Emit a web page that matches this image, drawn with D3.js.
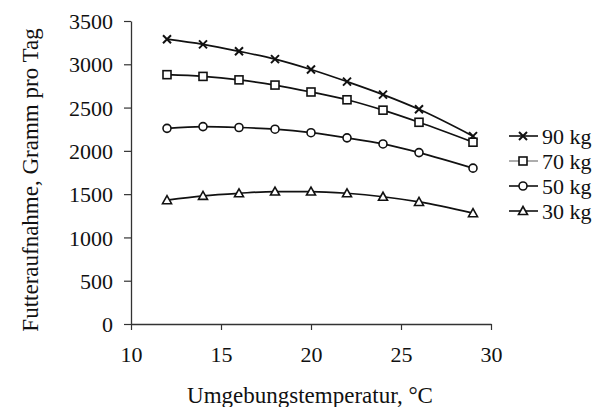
<!DOCTYPE html>
<html>
<head>
<meta charset="utf-8">
<script src="https://cdn.jsdelivr.net/npm/d3@7"></script>
<style>
  body { margin: 0; background: #fff; }
  text { font-family: "Liberation Serif", "Times New Roman", serif; fill: #111; }
</style>
</head>
<body>
<svg id="chart" width="611" height="407"></svg>
<script>
// temperatures (°C) and feed intake (g/day) per body weight
var temps = [12, 14, 16, 18, 20, 22, 24, 26, 29];
var kg90 = [3290, 3230, 3150, 3060, 2940, 2800, 2650, 2480, 2170];
var kg70 = [2880, 2860, 2820, 2760, 2680, 2590, 2470, 2330, 2100];
var kg50 = [2260, 2280, 2270, 2250, 2210, 2150, 2080, 1980, 1800];
var kg30 = [1430, 1480, 1510, 1530, 1530, 1510, 1470, 1410, 1280];
var seriesNames = ["90 kg", "70 kg", "50 kg", "30 kg"];
var xTicks = [10, 15, 20, 25, 30];
var yTicks = [0, 500, 1000, 1500, 2000, 2500, 3000, 3500];

var series = [
  {name: seriesNames[0], values: kg90, marker: "cross"},
  {name: seriesNames[1], values: kg70, marker: "square"},
  {name: seriesNames[2], values: kg50, marker: "circle"},
  {name: seriesNames[3], values: kg30, marker: "triangle"}
];

var svg = d3.select("#chart")

var x = d3.scaleLinear().domain([10, 30]).range([131, 491])
var y = d3.scaleLinear().domain([0, 3500]).range([324, 21])

// axes
var xAxis = svg.append("g")
  .attr("transform", "translate(0,324)")
  .call(d3.axisBottom(x).tickValues(xTicks).tickFormat(d3.format("d")).tickSize(6).tickPadding(16).tickSizeOuter(0))
var yAxis = svg.append("g")
  .attr("transform", "translate(131,0)")
  .call(d3.axisLeft(y).tickValues(yTicks).tickFormat(d3.format("d")).tickSize(7).tickPadding(11).tickSizeOuter(0))

svg.selectAll("g").attr("font-family", null).attr("font-size", null)
svg.selectAll(".domain").style("stroke", "#333").style("stroke-width", 1.3)
svg.selectAll(".tick line").style("stroke", "#333").style("stroke-width", 1.2)
svg.selectAll(".tick text")
  .style("font-size", "22px")
  .style("fill", "#111")
yAxis.selectAll(".tick text").attr("dy", "0.35em")

// axis titles
svg.append("text")
  .attr("x", 310)
  .attr("y", 403)
  .attr("text-anchor", "middle")
  .style("font-size", "23px")
  .text("Umgebungstemperatur, °C")

svg.append("text")
  .attr("transform", "translate(38,180) rotate(-90)")
  .attr("text-anchor", "middle")
  .style("font-size", "23px")
  .text("Futteraufnahme, Gramm pro Tag")

function drawMarker(g, type, cx, cy) {
  if (type == "cross") {
    g.append("path")
      .attr("d", "M" + (cx-4) + "," + (cy-4) + "L" + (cx+4) + "," + (cy+4) + "M" + (cx-4) + "," + (cy+4) + "L" + (cx+4) + "," + (cy-4))
      .style("stroke", "#111").style("stroke-width", 2).style("fill", "none")
  } else if (type == "square") {
    g.append("rect")
      .attr("x", cx-4).attr("y", cy-4).attr("width", 8).attr("height", 8)
      .style("fill", "#fff").style("stroke", "#111").style("stroke-width", 1.6)
  } else if (type == "circle") {
    g.append("circle")
      .attr("cx", cx).attr("cy", cy).attr("r", 4)
      .style("fill", "#fff").style("stroke", "#111").style("stroke-width", 1.6)
  } else {
    g.append("path")
      .attr("d", "M" + cx + "," + (cy-4.5) + "L" + (cx+4.5) + "," + (cy+3.5) + "L" + (cx-4.5) + "," + (cy+3.5) + "Z")
      .style("fill", "#fff").style("stroke", "#111").style("stroke-width", 1.6)
  }
}

var line = d3.line()
  .x(function(d, i) { return x(temps[i]) })
  .y(function(d) { return y(d) })
  .curve(d3.curveMonotoneX)

series.forEach(function(s) {
  svg.append("path")
    .datum(s.values)
    .attr("d", line)
    .style("fill", "none")
    .style("stroke", "#111")
    .style("stroke-width", 1.7)
  var g = svg.append("g")
  s.values.forEach(function(v, i) {
    drawMarker(g, s.marker, x(temps[i]), y(v))
  })
})

// legend
var legend = svg.append("g")
series.forEach(function(s, i) {
  var ly = 136 + i*25
  legend.append("line")
    .attr("x1", 509).attr("y1", ly).attr("x2", 538).attr("y2", ly)
    .style("stroke", i == 1 ? "#999" : "#111")
    .style("stroke-width", 1.6)
  drawMarker(legend, s.marker, 523, ly)
  legend.append("text")
    .attr("x", 542)
    .attr("y", ly)
    .attr("dy", "0.35em")
    .style("font-size", "22px")
    .text(s.name)
})
</script>
</body>
</html>
